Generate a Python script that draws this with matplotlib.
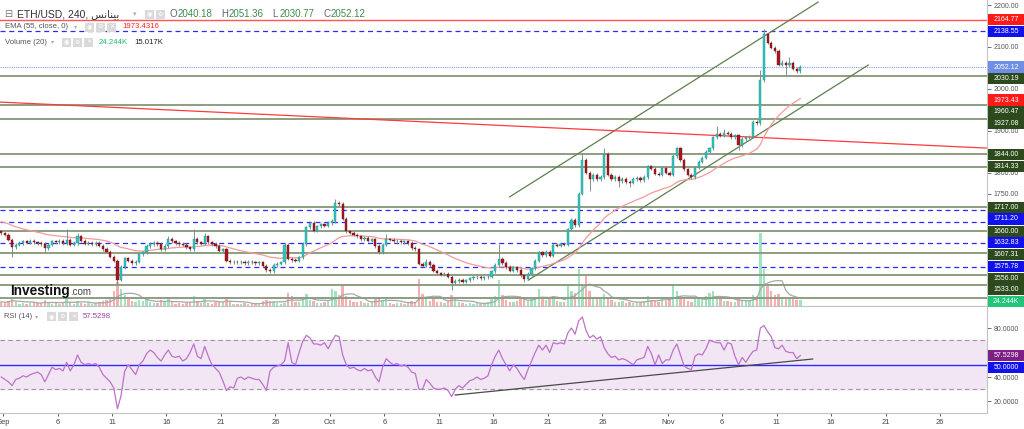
import numpy as np
import pandas as pd
import matplotlib
matplotlib.use('Agg')
import matplotlib.pyplot as plt
from matplotlib.patches import Rectangle
from matplotlib.transforms import blended_transform_factory

plt.rcParams['font.family'] = ['Liberation Sans', 'DejaVu Sans']

# ---- data (8h candles) ----
start = '2023-08-31 20:00'
first_open = 1660
closes = [1655, 1652, 1640, 1622, 1628, 1632, 1636, 1633, 1637, 1634,
          1632, 1630, 1620, 1628, 1636, 1634, 1638, 1632, 1640, 1628,
          1632, 1648, 1638, 1631, 1633, 1630, 1632, 1626, 1618, 1612,
          1600, 1590, 1545, 1575, 1596, 1590, 1585, 1588, 1605, 1610,
          1625, 1630, 1633, 1630, 1617, 1625, 1643, 1636, 1632, 1630,
          1628, 1622, 1618, 1643, 1634, 1631, 1648, 1634, 1630, 1625,
          1614, 1617, 1590, 1586, 1588, 1586, 1587, 1585, 1587, 1586,
          1584, 1586, 1578, 1568, 1565, 1580, 1583, 1586, 1628, 1595,
          1592, 1590, 1598, 1630, 1670, 1680, 1662, 1672, 1677, 1674,
          1680, 1685, 1728, 1725, 1690, 1660, 1657, 1652, 1648, 1641,
          1645, 1638, 1641, 1625, 1610, 1628, 1641, 1640, 1636, 1638,
          1634, 1636, 1632, 1620, 1617, 1583, 1578, 1588, 1580, 1566,
          1560, 1557, 1558, 1552, 1538, 1542, 1545, 1540, 1543, 1548,
          1550, 1552, 1549, 1550, 1552, 1565, 1580, 1595, 1585, 1575,
          1566, 1574, 1568, 1555, 1547, 1558, 1572, 1590, 1610, 1603,
          1612, 1602, 1628, 1626, 1629, 1628, 1665, 1688, 1675, 1750,
          1830, 1800, 1785, 1795, 1785, 1790, 1845, 1795, 1785, 1790,
          1780, 1785, 1778, 1776, 1785, 1788, 1782, 1790, 1815, 1810,
          1798, 1795, 1812, 1800, 1795, 1840, 1858, 1830, 1808, 1795,
          1790, 1812, 1826, 1836, 1850, 1858, 1884, 1892, 1888, 1895,
          1893, 1885, 1889, 1865, 1880, 1884, 1886, 1922, 1918, 2020,
          2130, 2110, 2098, 2090, 2058, 2062, 2056, 2062, 2048, 2043,
          2052.12]
high_marks = {18: 1665, 21: 1655, 46: 1650, 53: 1665, 56: 1655, 92: 1737, 106: 1653,
              117: 1595, 137: 1630, 160: 1848, 166: 1860, 197: 1911, 199: 1905,
              209: 2045, 210: 2142, 215: 2068, 217: 2075}
low_marks = {3: 1600, 12: 1612, 32: 1533, 124: 1520, 144: 1540, 162: 1757, 170: 1765,
             173: 1765, 203: 1855, 216: 2030, 219: 2038}
volume = [18, 12, 22, 35, 15, 10, 14, 9, 12, 16,
          11, 13, 25, 14, 9, 12, 10, 15, 30, 18,
          10, 22, 14, 9, 11, 8, 12, 15, 20, 24,
          35, 60, 100, 70, 45, 30, 22, 18, 25, 20,
          28, 16, 12, 14, 24, 18, 30, 15, 10, 12,
          9, 14, 18, 40, 20, 12, 28, 14, 10, 16,
          22, 15, 38, 20, 10, 8, 9, 12, 8, 10,
          9, 11, 20, 26, 22, 18, 12, 10, 14, 55,
          40, 18, 15, 30, 48, 25, 20, 14, 12, 16,
          22, 70, 60, 45, 85, 40, 25, 18, 15, 20,
          14, 12, 16, 28, 35, 26, 30, 14, 10, 12,
          11, 9, 13, 22, 18, 110, 50, 32, 20, 28,
          18, 16, 14, 20, 45, 30, 15, 12, 10, 11,
          9, 12, 10, 13, 15, 30, 40, 105, 45, 25,
          18, 16, 22, 28, 35, 20, 30, 38, 70, 30,
          25, 32, 40, 20, 15, 18, 80, 60, 55, 150,
          90, 130, 60, 35, 28, 30, 50, 38, 25, 18,
          15, 20, 14, 18, 12, 14, 16, 20, 40, 26,
          22, 18, 30, 20, 24, 85, 60, 42, 30, 22,
          18, 28, 30, 25, 40, 55, 60, 35, 28, 22,
          20, 18, 16, 30, 25, 20, 22, 45, 40, 300,
          150, 80, 60, 45, 50, 35, 28, 30, 38, 26,
          24.244]
rsi = [40, 38, 36, 33, 38, 39, 41, 40, 42, 43,
       44, 42, 36, 42, 48, 46, 47, 45, 52, 45,
       50, 58, 52, 50, 51, 50, 51, 48, 42, 39,
       36, 31, 14, 25, 45, 50, 46, 42, 50, 53,
       59, 62, 60, 56, 53, 58, 62, 57, 56, 57,
       53, 55, 60, 67, 57, 55, 65, 57, 50, 47,
       44, 37, 29, 32, 31, 39, 40, 38, 40, 39,
       38, 38, 34, 29, 45, 48, 49, 50, 53, 68,
       52, 50, 60, 69, 74, 72, 67, 67, 66, 68,
       63, 69, 74, 73, 58, 50, 47, 48, 46, 45,
       47, 45, 46, 40, 36, 48, 55, 52, 50, 51,
       49, 50, 48, 44, 43, 30, 30, 38, 35, 31,
       30, 30, 31, 29, 24, 30, 33, 31, 34, 37,
       38, 40, 38, 39, 41, 50, 57, 62, 55, 50,
       45, 50, 47, 42, 38, 46, 53, 60, 66, 62,
       66, 60, 68, 67, 68, 67, 76, 80, 75, 86,
       89, 78, 72, 74, 71, 73, 64, 59, 56, 57,
       54, 55, 54, 52, 50, 54, 55, 56, 65, 59,
       50, 58, 51, 54, 54, 62, 67, 58, 49, 47,
       46, 57, 59, 58, 63, 70, 69, 68, 68, 62,
       68, 67, 57, 50, 56, 52, 57, 61, 62, 80,
       82, 77, 73, 64, 63, 66, 61, 60, 60, 55,
       57.53]

ema_seed = 1685
ema_span = 28          # 55 periods of 4h ~ 28 periods of 8h
vol_ma_len = 7

green_levels = [2030.19, 1960.47, 1927.08, 1844.00, 1814.33, 1717.00,
                1660.00, 1607.31, 1556.00, 1533.00]
blue_levels = [2138.55, 1711.20, 1632.83, 1575.78]
extra_blue = [1683]
extra_green = [1501]
red_level = 2164.77
last_price = 2052.12
ema_value = 1973.4316
vol_now, vol_ma_now = '24.244K', '15.017K'
rsi_value = 57.5298
price_ticks = [1750, 1800, 1900, 2000, 2100, 2200]
rsi_ticks = [20, 40, 80]

# trend lines: (day since Sep 1, value)
upper_channel = [(46.5, 1742.5), (74.8, 2207)]
lower_channel = [(48.2, 1543.7), (79.4, 2056.8)]
red_trend = [(-0.28, 1968.5), (90.3, 1858.7)]
rsi_trend = [(41.5, 25.3), (74.3, 54.7)]

tick_days = [0, 5, 10, 15, 20, 25, 30, 35, 40, 45, 50, 55, 61, 66, 71, 76, 81, 86]
tick_text = ['Sep', '6', '11', '16', '21', '26', 'Oct', '6', '11', '16', '21', '26',
             'Nov', '6', '11', '16', '21', '26']

# ---- derived ----
n = len(closes)
assert len(volume) == n and len(rsi) == n
times = pd.date_range(start, periods=n, freq='8h')
x = ((times - pd.Timestamp('2023-09-01')) / pd.Timedelta(days=1)).to_numpy()
c = np.array(closes, float)
o = np.array([first_open] + closes[:-1], float)
hi = np.maximum(o, c) + 4
lo = np.minimum(o, c) - 4
for k, v in high_marks.items():
    hi[k] = v
for k, v in low_marks.items():
    lo[k] = v
up = c >= o
alpha = 2 / (ema_span + 1)
ema = []
e = ema_seed
for v in c:
    e = e + alpha * (v - e)
    ema.append(e)
vol = np.array(volume, float)
vol_ma = pd.Series(vol).rolling(vol_ma_len, min_periods=1).mean()

W, H = 1024, 429
def fx(p): return p / W
def fy(p): return 1 - p / H

fig = plt.figure(figsize=(10.24, 4.29), dpi=100, facecolor='white')
plot_w = 987 / W
rect_main = [0, fy(306), plot_w, 306 / H]
axv = fig.add_axes(rect_main, zorder=0)
ax = fig.add_axes(rect_main, sharex=axv, zorder=1)
axr = fig.add_axes([0, fy(413), plot_w, 107 / H], sharex=axv, zorder=1)
ax.patch.set_alpha(0)

xlim = (-0.28, 90.3)
ax.set_xlim(*xlim)
ax.set_ylim(1482, 2212)
axv.set_ylim(0, 1250)
axr.set_ylim(10.6, 98)

# volume
axv.bar(x[up], vol[up], width=0.22, color='#9fe3c0', linewidth=0)
axv.bar(x[~up], vol[~up], width=0.22, color='#f6b0b0', linewidth=0)
axv.plot(x, vol_ma, color='#a8a8a8', lw=0.9)
axv.axis('off')

# levels
for p in green_levels + extra_green:
    ax.axhline(p, color='#8d9e82', lw=1.4, zorder=1)
for p in blue_levels + extra_blue:
    ax.axhline(p, color='#2b2bff', lw=0.9, ls=(0, (4, 3)), zorder=1)
ax.axhline(red_level, color='#ff5555', lw=1.0, zorder=1)
ax.axhline(last_price, color='#7f9cf0', lw=0.8, ls=(0, (1, 1)), zorder=1)

# trend lines
for line, col in [(upper_channel, '#5f7f4f'), (lower_channel, '#5f7f4f'), (red_trend, '#ff3b3b')]:
    ax.plot([line[0][0], line[1][0]], [line[0][1], line[1][1]], color=col, lw=0.9, zorder=2)

ax.plot(x, ema, color='#f59a9a', lw=0.9, zorder=2)

# candles
ax.vlines(x, lo, hi, color='#7f9486', lw=0.7, zorder=3)
ax.bar(x[up], (c - o)[up], bottom=o[up], width=0.2, color='#2fc6c0',
       edgecolor='#1f8f8a', linewidth=0.3, zorder=4)
ax.bar(x[~up], (c - o)[~up], bottom=o[~up], width=0.2, color='#a3181c',
       edgecolor='#7a1014', linewidth=0.3, zorder=4)

# main axis styling
for s in ['top', 'left']:
    ax.spines[s].set_visible(False)
ax.spines['right'].set_color('#c4c4c4')
ax.spines['bottom'].set_color('#c4c4c4')
ax.yaxis.tick_right()
ax.set_yticks(price_ticks)
ax.set_yticklabels(['%.2f' % v for v in price_ticks])
ax.tick_params(axis='y', labelsize=5, colors='#555555', length=3, pad=2, width=0.6)
ax.tick_params(axis='x', bottom=False, labelbottom=False)

# RSI panel
axr.axhspan(30, 70, color='#f2e6f4', zorder=0)
axr.axhline(70, color='#999999', lw=0.8, ls=(0, (4, 3)))
axr.axhline(30, color='#999999', lw=0.8, ls=(0, (4, 3)))
axr.axhline(50, color='#2b2bff', lw=1.0)
axr.plot(x, rsi, color='#bd72c9', lw=0.9)
axr.plot([rsi_trend[0][0], rsi_trend[1][0]], [rsi_trend[0][1], rsi_trend[1][1]],
         color='#4a4a4a', lw=0.9)
for s in ['top', 'left']:
    axr.spines[s].set_visible(False)
axr.spines['right'].set_color('#c4c4c4')
axr.spines['bottom'].set_color('#c4c4c4')
axr.yaxis.tick_right()
axr.set_yticks(rsi_ticks)
axr.set_yticklabels(['%.4f' % v for v in rsi_ticks])
axr.tick_params(axis='y', labelsize=5, colors='#555555', length=3, pad=2, width=0.6)
axr.set_xticks(tick_days)
axr.set_xticklabels(tick_text)
axr.tick_params(axis='x', labelsize=5.5, colors='#444444', length=2, pad=2, width=0.6)
axr.set_xlim(*xlim)
fig.add_artist(plt.Line2D([0, plot_w], [fy(306), fy(306)], color='#c4c4c4', lw=0.8))

# right-hand value tags
def tag(axis, value, text, face, h):
    tr = blended_transform_factory(fig.transFigure, axis.transData)
    fig.add_artist(Rectangle((fx(988), value - h * 0.48), fx(36), h * 0.96, transform=tr,
                             facecolor=face, edgecolor='none', zorder=5))
    fig.text(fx(1006), value, text, transform=tr, ha='center', va='center',
             fontsize=5, color='white', zorder=6)

vol_y = axv.transData.transform((0, vol[-1]))[1]
vol_price = ax.transData.inverted().transform((0, vol_y))[1]
tags = [(red_level, '%.2f' % red_level, '#ff1a1a'),
        (last_price, '%.2f' % last_price, '#6f8fe6'),
        (ema_value, '%.2f' % ema_value, '#ff1a1a')]
tags += [(p, '%.2f' % p, '#2c4a1c') for p in green_levels]
tags += [(p, '%.2f' % p, '#1111ee') for p in blue_levels]
tags += [(vol_price, vol_now, '#22c47a')]
tags.sort(key=lambda t: -t[0])
h_price = 11.5 / 0.419
prev = None
for p, s, col in tags:
    pos = p if prev is None else min(p, prev - h_price)
    tag(ax, pos, s, col, h_price)
    prev = pos
h_rsi = 11.5 / 1.225
tag(axr, rsi_value, '%.4f' % rsi_value, '#7e1f86', h_rsi)
tag(axr, min(50, rsi_value - h_rsi), '%.4f' % 50, '#1111ee', h_rsi)

# header text
def icons(x0, yc, glyphs):
    for k, g in enumerate(glyphs):
        fig.add_artist(Rectangle((fx(x0 + k * 11), fy(yc + 4.5)), fx(9), 9 / H,
                                 facecolor='#dadada', edgecolor='none', zorder=7))
        fig.text(fx(x0 + k * 11 + 4.5), fy(yc), g, ha='center', va='center',
                 fontsize=4.5, color='white', family='DejaVu Sans', zorder=8)

arabic = '\ufeb2\ufee7\ufe8e\ufee8\ufef4\ufe91'
fig.text(fx(4), fy(14), '\u229f', fontsize=7, color='#777777', va='center', family='DejaVu Sans')
fig.text(fx(17), fy(14), 'ETH/USD, 240, ' + arabic, fontsize=7.5, color='#333333', va='center')
fig.text(fx(133), fy(14), '\u25be', fontsize=5, color='#aaaaaa', va='center', family='DejaVu Sans')
icons(145, 14, ['\u25c9', '\u2699'])
ohlc = [('O', 2040.18), ('H', 2051.36), ('L', 2030.77), ('C', 2052.12)]
for k, (lab, val) in enumerate(ohlc):
    x0 = 170 + k * 51
    fig.text(fx(x0), fy(14), lab, fontsize=7, color='#666666', va='center')
    fig.text(fx(x0 + 8), fy(14), '%.2f' % val, fontsize=7, color='#3d8c4f', va='center')

fig.text(fx(5), fy(27), 'EMA (55, close, 0)', fontsize=5.6, color='#555555', va='center')
fig.text(fx(74), fy(27), '\u25be', fontsize=4.5, color='#aaaaaa', va='center', family='DejaVu Sans')
icons(85, 27, ['\u25c9', '\u2699', '\u2715'])
fig.text(fx(122), fy(27), '%.4f' % ema_value, fontsize=5.6, color='#ff2020', va='center')

fig.text(fx(5), fy(42), 'Volume (20)', fontsize=5.6, color='#555555', va='center')
fig.text(fx(51), fy(42), '\u25be', fontsize=4.5, color='#aaaaaa', va='center', family='DejaVu Sans')
icons(62, 42, ['\u25c9', '\u2699', '\u2715'])
fig.text(fx(99), fy(42), vol_now, fontsize=5.6, color='#22b86e', va='center')
fig.text(fx(134), fy(42), vol_ma_now, fontsize=5.6, color='#222222', va='center')

fig.text(fx(4), fy(316.5), 'RSI (14)', fontsize=5.4, color='#555555', va='center')
fig.text(fx(35), fy(316.5), '\u25be', fontsize=4.5, color='#aaaaaa', va='center', family='DejaVu Sans')
icons(47, 316.5, ['\u25c9', '\u2699', '\u2715'])
fig.text(fx(83), fy(316.5), '%.4f' % rsi_value, fontsize=5.6, color='#9c3fb0', va='center')

# watermark
fig.text(fx(10), fy(295), 'Investing', fontsize=9.8, fontweight='bold', color='#111111',
         va='baseline', zorder=7)
fig.text(fx(70), fy(295), '.com', fontsize=7, color='#444444', va='baseline', zorder=7)

fig.savefig('out.png', dpi=100, facecolor='white')
